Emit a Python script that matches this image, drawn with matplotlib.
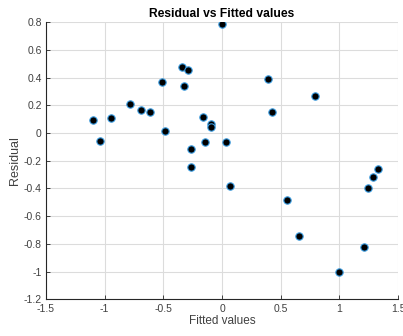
import matplotlib
matplotlib.use('Agg')
import matplotlib.pyplot as plt
import numpy as np

# Valores
fitted = [-1.102, -1.040, -0.949, -0.784, -0.688, -0.616, -0.509, -0.489,
          -0.338, -0.287, -0.324, -0.261, -0.267, -0.165, -0.142, -0.094,
          -0.094, 0.003, 0.031, 0.071, 0.389, 0.426, 0.790, 0.557,
          0.659, 1.000, 1.213, 1.239, 1.287, 1.327]
residual = [0.095, -0.057, 0.107, 0.213, 0.165, 0.155, 0.369, 0.013,
            0.477, 0.453, 0.340, -0.114, -0.245, 0.119, -0.064, 0.064,
            0.042, 0.788, -0.064, -0.384, 0.388, 0.155, 0.266, -0.480,
            -0.743, -1.000, -0.819, -0.399, -0.317, -0.257]

xticks = [-1.5, -1, -0.5, 0, 0.5, 1, 1.5]
yticks = [-1.2, -1, -0.8, -0.6, -0.4, -0.2, 0, 0.2, 0.4, 0.6, 0.8]

plt.rcParams['font.family'] = ['Liberation Sans', 'DejaVu Sans']

fig = plt.figure(figsize=(4.03, 3.36), dpi=100)
ax = fig.add_axes([0.114, 0.109, 0.874, 0.825])

ax.scatter(fitted, residual, s=28, c='black', edgecolors='#3a9be0',
           linewidths=0.8, zorder=3)

ax.set_xlim(-1.5, 1.5)
ax.set_ylim(-1.2, 0.8)
ax.set_xticks(xticks)
ax.set_xticklabels(['-1.5', '-1', '-0.5', '0', '0.5', '1', '1.5'])
ax.set_yticks(yticks)
ax.set_yticklabels(['-1.2', '-1', '-0.8', '-0.6', '-0.4', '-0.2', '0',
                    '0.2', '0.4', '0.6', '0.8'])
ax.grid(True, color='#dcdcdc', linewidth=0.8)
ax.set_axisbelow(True)

for s in ['top', 'right']:
    ax.spines[s].set_visible(False)
for s in ['left', 'bottom']:
    ax.spines[s].set_color('#262626')
    ax.spines[s].set_linewidth(0.8)

ax.tick_params(labelsize=7.5, colors='#262626', labelcolor='#404040',
               direction='in', length=3, width=0.6, pad=3)
ax.set_xlabel('Fitted values', fontsize=8.5, color='#404040', labelpad=1)
ax.set_ylabel('Residual', fontsize=9, color='#404040', labelpad=2)
ax.set_title('Residual vs Fitted values', fontsize=8.7, fontweight='bold',
             pad=4)

fig.savefig('out.png', dpi=100)
